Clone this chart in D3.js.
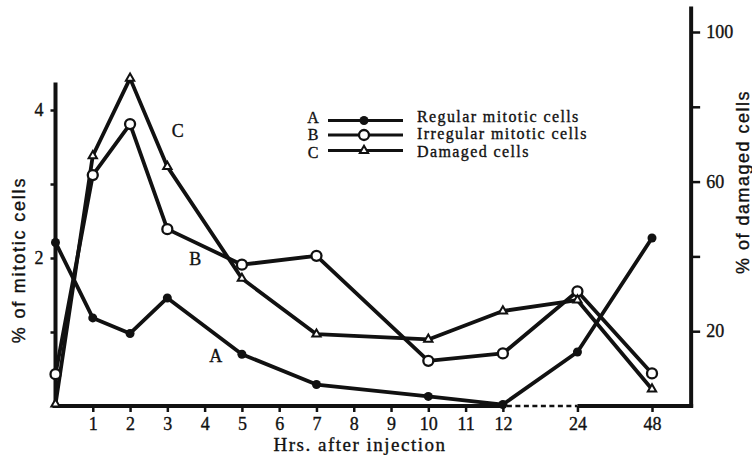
<!DOCTYPE html>
<html><head><meta charset="utf-8">
<script src="https://cdn.jsdelivr.net/npm/d3@7"></script>
<style>body{margin:0;background:#fff}svg{display:block}</style>
</head><body><svg id="c" width="752" height="455"></svg>
<script>
// ---- data ----
const hours = [0, 1, 2, 3, 5, 7, 10, 12, 24, 48];
const hourSlots = [0, 1, 2, 3, 5, 7, 10, 12, 14, 16];
const xTickLabels = ["1","2","3","4","5","6","7","8","9","10","11","12","24","48"];
const xTickSlots = [1,2,3,4,5,6,7,8,9,10,11,12,14,16];
const regular = [2.21, 1.19, 0.98, 1.46, 0.70, 0.29, 0.13, 0.02, 0.73, 2.27];
const irregular = [0.43, 3.12, 3.81, 2.39, 1.91, 2.03, 0.61, 0.71, 1.55, 0.44];
const damaged = [0.5, 66.9, 87.6, 64.0, 34.1, 19.2, 17.8, 25.4, 28.3, 4.5];
const leftTicks = [1, 2, 3, 4];
const leftTickLabels = ["", "2", "", "4"];
const rightTicks = [20, 40, 60, 80, 100];
const rightTickLabels = ["20", "", "60", "", "100"];
const legendKeys = ["A", "B", "C"];
const legendNames = ["Regular mitotic cells", "Irregular mitotic cells", "Damaged cells"];

// ---- layout ----
const svg = d3.select("#c");
const x = d3.scaleLinear().domain([0, 16]).range([55.5, 652]);
const yL = d3.scaleLinear().domain([0, 4]).range([406, 110]);
const yR = d3.scaleLinear().domain([0, 100]).range([406, 32]);
const leftTop = 4.37, rightTop = 106.8, rightSlot = 17.05;
const serif = "'Liberation Serif', 'DejaVu Serif', serif";
const sans = "'Liberation Sans', Arial, sans-serif";
const ink = "#111";
function darken(sel) { return sel.attr("stroke", ink).attr("stroke-width", 0.35); }

// axes
const gL = svg.append("g").attr("transform", `translate(${x(0)},0)`)
  .call(d3.axisLeft(yL).tickValues(leftTicks).tickSize(5).tickPadding(7)
    .tickFormat((d, i) => leftTickLabels[i]));
const gR = svg.append("g").attr("transform", `translate(${x(rightSlot)},0)`)
  .call(d3.axisRight(yR).tickValues(rightTicks).tickSize(9).tickPadding(6)
    .tickFormat((d, i) => rightTickLabels[i]));
const gB = svg.append("g").attr("transform", `translate(0,${yL(0)})`)
  .call(d3.axisBottom(x).tickValues(xTickSlots).tickSize(6).tickPadding(5)
    .tickFormat((d, i) => xTickLabels[i]));
[gL, gR, gB].forEach(g => {
  g.select(".domain").remove();
  g.selectAll(".tick line").attr("stroke", ink).attr("stroke-width", 2.5);
  darken(g.selectAll(".tick text").attr("fill", ink)).style("font-family", serif).style("font-size", "18px");
});

// axis lines
svg.append("line").attr("x1", x(0)).attr("x2", x(0)).attr("y1", yL(leftTop)).attr("y2", yL(0) + 1.5)
  .attr("stroke", ink).attr("stroke-width", 4);
svg.append("line").attr("x1", x(rightSlot)).attr("x2", x(rightSlot)).attr("y1", yR(rightTop)).attr("y2", yR(0) + 1.5)
  .attr("stroke", ink).attr("stroke-width", 4);
svg.append("line").attr("x1", x(0) - 3).attr("x2", x(12)).attr("y1", yL(0)).attr("y2", yL(0))
  .attr("stroke", ink).attr("stroke-width", 4);
svg.append("line").attr("x1", x(12) + 4).attr("x2", x(14)).attr("y1", yL(0)).attr("y2", yL(0))
  .attr("stroke", ink).attr("stroke-width", 2.5).attr("stroke-dasharray", "5,3.5");
svg.append("line").attr("x1", x(14)).attr("x2", x(rightSlot) + 2).attr("y1", yL(0)).attr("y2", yL(0))
  .attr("stroke", ink).attr("stroke-width", 4);

// series
const line = (vals, y) => d3.line().x((d, i) => x(hourSlots[i])).y(d => y(d))(vals);
const series = [
  {vals: regular, y: yL, type: "dot"},
  {vals: irregular, y: yL, type: "circle"},
  {vals: damaged, y: yR, type: "tri"}
];
const tri = d3.symbol().type(d3.symbolTriangle).size(30);
function marker(g, type, cx, cy) {
  if (type === "dot") g.append("circle").attr("cx", cx).attr("cy", cy).attr("r", 4.5).attr("fill", ink);
  else if (type === "circle") g.append("circle").attr("cx", cx).attr("cy", cy).attr("r", 5)
    .attr("fill", "#fff").attr("stroke", ink).attr("stroke-width", 2.3);
  else g.append("path").attr("d", tri).attr("transform", `translate(${cx},${cy})`)
    .attr("fill", "#fff").attr("stroke", ink).attr("stroke-width", 2);
}
series.forEach(s => {
  svg.append("path").attr("d", line(s.vals, s.y)).attr("fill", "none")
    .attr("stroke", ink).attr("stroke-width", 3.8).attr("stroke-linejoin", "round");
});
series.forEach(s => {
  const g = svg.append("g");
  s.vals.forEach((v, i) => marker(g, s.type, x(hourSlots[i]), s.y(v)));
});

// in-plot labels
const inLabels = [["A", 4.3, 0.6], ["B", 3.75, 1.91], ["C", 3.28, 3.63]];
inLabels.forEach(([t, sx, v]) => darken(svg.append("text").attr("x", x(sx)).attr("y", yL(v))
  .attr("text-anchor", "middle").attr("fill", ink))
  .style("font-family", serif).style("font-size", "18px").text(t));

// legend
const legY = [120.5, 135, 150.5];
const legBase = [122, 139, 157];
legendKeys.forEach((k, i) => {
  darken(svg.append("text").attr("x", 313).attr("y", legBase[i] + 0.5).attr("text-anchor", "middle")
    .attr("fill", ink)).style("font-family", serif).style("font-size", "16px").text(k);
  svg.append("line").attr("x1", 328).attr("x2", 403).attr("y1", legY[i]).attr("y2", legY[i])
    .attr("stroke", ink).attr("stroke-width", 3);
  marker(svg, series[i].type, 364, legY[i]);
  darken(svg.append("text").attr("x", 417).attr("y", legBase[i]).attr("fill", ink))
    .style("font-family", serif).style("font-size", "16px").style("letter-spacing", "1.4px").text(legendNames[i]);
});

// axis titles
darken(svg.append("text").attr("transform", "translate(25,260) rotate(-90)").attr("text-anchor", "middle")
  .attr("fill", ink)).style("font-family", sans).style("font-size", "18px")
  .style("letter-spacing", "1.8px").text("% of mitotic cells");
darken(svg.append("text").attr("transform", "translate(749,182) rotate(-90)").attr("text-anchor", "middle")
  .attr("fill", ink)).style("font-family", sans).style("font-size", "18px")
  .style("letter-spacing", "1.5px").text("% of damaged cells");
darken(svg.append("text").attr("x", 360).attr("y", 451).attr("text-anchor", "middle")
  .attr("fill", ink)).style("font-family", serif).style("font-size", "19px")
  .style("letter-spacing", "1.5px").text("Hrs. after injection");
</script></body></html>
